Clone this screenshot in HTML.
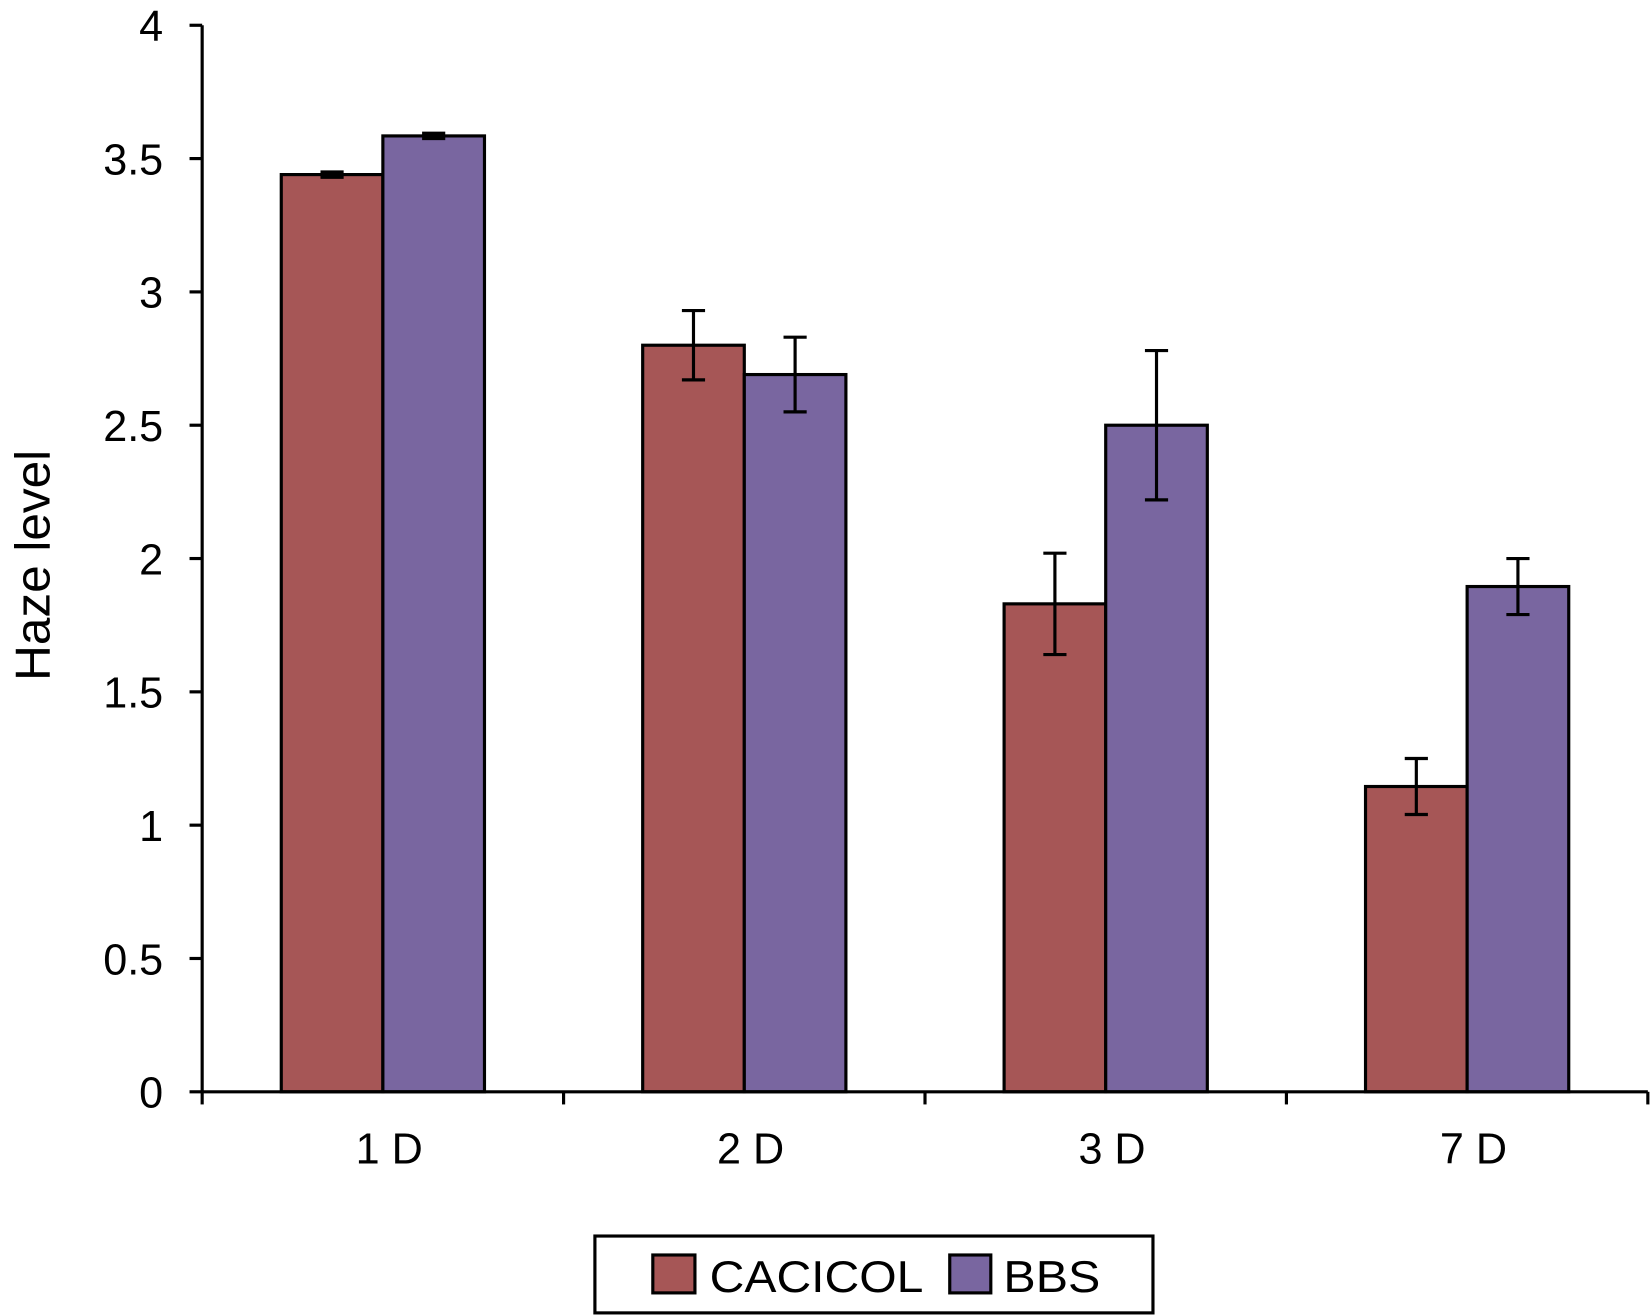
<!DOCTYPE html>
<html><head><meta charset="utf-8"><style>
html,body{margin:0;padding:0;background:#fff;}
svg{display:block;font-family:"Liberation Sans",Arial,sans-serif;}
</style></head><body>
<svg id="chart" width="1651" height="1315" viewBox="0 0 1568 1249" preserveAspectRatio="none" xmlns="http://www.w3.org/2000/svg"></svg>
<script>
const categories = ["1 D","2 D","3 D","7 D"];
const cacicolValues = [3.44, 2.80, 1.83, 1.145];
const cacicolErrors = [0.01, 0.13, 0.19, 0.105];
const bbsValues = [3.585, 2.69, 2.50, 1.895];
const bbsErrors = [0.01, 0.14, 0.28, 0.105];
const yTicks = [0, 0.5, 1, 1.5, 2, 2.5, 3, 3.5, 4];
const yTickLabels = ["0","0.5","1","1.5","2","2.5","3","3.5","4"];

const NS = "http://www.w3.org/2000/svg";
const svg = document.getElementById("chart");
const X0 = 192, X1 = 1565, Y0 = 1037, Y4 = 24;
const groupW = (X1 - X0) / categories.length;
const barW = 96.5;
function yScale(v){ return Y0 - v * (Y0 - Y4) / 4; }
function xCenter(i){ return X0 + groupW * (i + 0.5); }
function mk(tag, attrs){ const e = document.createElementNS(NS, tag); for (const k in attrs) e.setAttribute(k, attrs[k]); svg.appendChild(e); return e; }

const series = [
  {vals: cacicolValues, errs: cacicolErrors, color: "#a65656", off: -1, name: "cacicol"},
  {vals: bbsValues, errs: bbsErrors, color: "#7966a0", off: 0, name: "bbs"}
];
series.forEach(s => {
  s.vals.forEach((v, i) => {
    const x = xCenter(i) + s.off * barW;
    const r = mk("rect", {x: x, y: yScale(v), width: barW, height: Y0 - yScale(v), fill: s.color, stroke: "#000", "stroke-width": 3});
    
    
  });
});
series.forEach(s => {
  s.vals.forEach((v, i) => {
    const cx = xCenter(i) + s.off * barW + barW / 2;
    const e = s.errs[i];
    const g = mk("g", {stroke: "#000", "stroke-width": 3});
    
    
    [[cx, yScale(v + e), cx, yScale(v - e)], [cx - 11, yScale(v + e), cx + 11, yScale(v + e)], [cx - 11, yScale(v - e), cx + 11, yScale(v - e)]].forEach(c => {
      const l = document.createElementNS(NS, "line");
      l.setAttribute("x1", c[0]); l.setAttribute("y1", c[1]); l.setAttribute("x2", c[2]); l.setAttribute("y2", c[3]);
      g.appendChild(l);
    });
  });
});

const ya = mk("line", {x1: X0, y1: Y4, x2: X0, y2: Y0, stroke: "#000", "stroke-width": 3});


const xa = mk("line", {x1: X0, y1: Y0, x2: X1, y2: Y0, stroke: "#000", "stroke-width": 3});



yTicks.forEach((t, i) => {
  const y = yScale(t);
  mk("line", {x1: X0 - 12, y1: y, x2: X0, y2: y, stroke: "#000", "stroke-width": 3});
  const tx = mk("text", {x: 155, y: y + 15, "text-anchor": "end", "font-size": 41, fill: "#000"});
  tx.textContent = yTickLabels[i];
  
  
});
for (let i = 0; i <= categories.length; i++) {
  const x = X0 + groupW * i;
  mk("line", {x1: x, y1: Y0, x2: x, y2: Y0 + 12, stroke: "#000", "stroke-width": 3});
}
categories.forEach((c, i) => {
  const tx = mk("text", {x: xCenter(i) + 6, y: 1105, "text-anchor": "middle", "font-size": 41, fill: "#000"});
  tx.textContent = c;
  
  
});

const yt = mk("text", {x: 47, y: 537, "text-anchor": "middle", "font-size": 47, fill: "#000", transform: "rotate(-90 47 537)"});
yt.textContent = "Haze level";



const lg = mk("rect", {x: 565, y: 1174, width: 530, height: 73, fill: "#fff", stroke: "#000", "stroke-width": 3});


const s1 = mk("rect", {x: 620, y: 1192, width: 40, height: 36, fill: "#a65656", stroke: "#000", "stroke-width": 3});


const t1 = mk("text", {x: 674, y: 1227, "font-size": 42, fill: "#000", textLength: 203, lengthAdjust: "spacingAndGlyphs"});
t1.textContent = "CACICOL";


const s2 = mk("rect", {x: 902, y: 1192, width: 39, height: 36, fill: "#7966a0", stroke: "#000", "stroke-width": 3});


const t2 = mk("text", {x: 953, y: 1227, "font-size": 42, fill: "#000", textLength: 92, lengthAdjust: "spacingAndGlyphs"});
t2.textContent = "BBS";


</script>
</body></html>
